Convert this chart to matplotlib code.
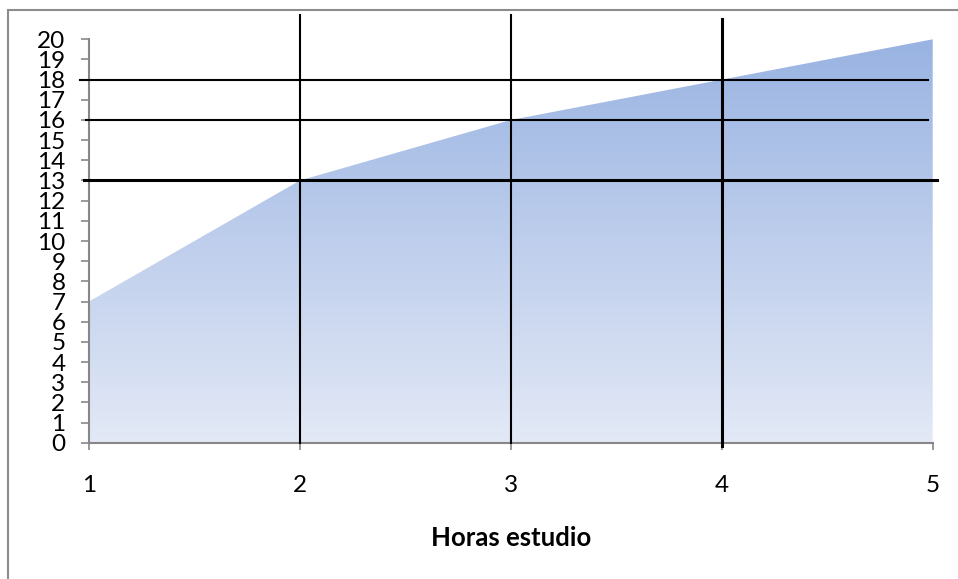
import numpy as np
import matplotlib
matplotlib.use("Agg")
import matplotlib.pyplot as plt
from matplotlib.colors import LinearSegmentedColormap
from matplotlib.patches import Rectangle

# data
horas = [1, 2, 3, 4, 5]
nota = [7, 13, 16, 18, 20]
y_ticks = list(range(0, 21))
x_label = "Horas estudio"

# reference lines drawn over the chart
vlines_x = [2, 3, 4]
hlines_y = [13, 16, 18]

plt.rcParams["font.family"] = ["Lato", "DejaVu Sans"]

W, H = 958, 579
fig = plt.figure(figsize=(W / 100, H / 100), dpi=100)
ax = fig.add_axes([89 / W, 1 - 442.7 / H, (932.7 - 89) / W, (442.7 - 39.3) / H])

ax.set_xlim(1, 5)
ax.set_ylim(0, 20)

# gradient fill under the line
poly = ax.fill_between(horas, nota, 0, color="none", lw=0)
cmap = LinearSegmentedColormap.from_list("grad", ["#e3e9f6", "#99b3e2"])
grad = np.linspace(0, 1, 256).reshape(-1, 1)
img = ax.imshow(grad, extent=[1, 5, 0, 20], origin="lower", aspect="auto",
                cmap=cmap, zorder=1)
path = poly.get_paths()[0]
img.set_clip_path(path, transform=ax.transData)

# black reference lines (they run past the plot area)
vl_top = {2: 21.2, 3: 21.2, 4: 21.0}
vl_bot = {2: 0, 3: 0, 4: -0.15}
vl_w = {2: 1.5, 3: 1.5, 4: 2.2}
for xv in vlines_x:
    ax.plot([xv, xv], [vl_bot[xv], vl_top[xv]], color="black",
            lw=vl_w[xv], clip_on=False, zorder=3)

hl_left = {13: 0.975, 16: 0.985, 18: 0.955}
hl_right = {13: 5.02, 16: 4.98, 18: 4.98}
hl_w = {13: 2.2, 16: 1.5, 18: 1.5}
for yv in hlines_y:
    ax.plot([hl_left[yv], hl_right[yv]], [yv, yv], color="black",
            lw=hl_w[yv], clip_on=False, zorder=3)

# axes styling
for side in ["top", "right"]:
    ax.spines[side].set_visible(False)
for side in ["left", "bottom"]:
    ax.spines[side].set_color("#878787")
    ax.spines[side].set_linewidth(1.5)
    ax.spines[side].set_zorder(2)

ax.set_xticks(horas)
ax.set_yticks(y_ticks)
ax.tick_params(axis="y", length=6, width=1.2, color="#878787",
               labelsize=17.5, pad=11)
ax.tick_params(axis="x", length=5, width=1.2, color="#878787",
               labelsize=17.5, pad=18)
ax.set_xlabel(x_label, fontsize=18.5, fontweight="bold", labelpad=22)

# outer chart border
fig.patches.append(Rectangle((8 / W, -0.05), 1.0, 1 - 10 / H + 0.05,
                             transform=fig.transFigure, fill=False,
                             edgecolor="#8c8c8c", lw=1.5))

fig.savefig("out.png", dpi=100)
